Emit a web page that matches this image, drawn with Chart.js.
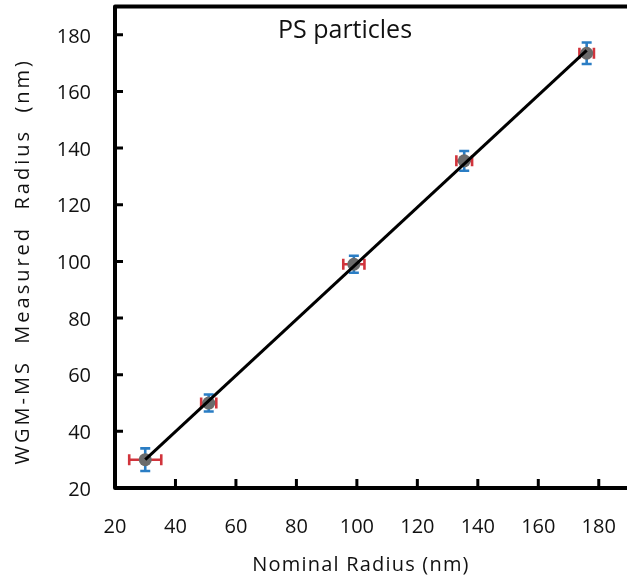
<!DOCTYPE html>
<html><head><meta charset="utf-8">
<script src="https://cdn.jsdelivr.net/npm/chart.js@4/dist/chart.umd.min.js"></script>
<style>html,body{margin:0;padding:0;overflow:hidden;background:#fff}canvas{display:block}</style>
</head><body>
<canvas id="c" width="640" height="583"></canvas>
<script>
// ---- data ----
const nominalRadius  = [30, 51, 99, 135.5, 176];
const measuredRadius = [30, 50, 99, 135.5, 173.5];
const nominalError   = [5.3, 2.5, 3.5, 2.6, 2.4];
const measuredError  = [4.0, 3.0, 3.0, 3.5, 3.8];
const fitX = [30, 176];
const fitY = [30, 174.5];
const xTickValues = [20, 40, 60, 80, 100, 120, 140, 160, 180];
const yTickValues = [20, 40, 60, 80, 100, 120, 140, 160, 180];
const chartTitle = 'PS particles';
const xTitle = 'Nominal Radius (nm)';
const yTitle = 'WGM-MS  Measured  Radius  (nm)';

const FONT = '"Open Sans", "Noto Sans", sans-serif';

const errorBars = {
  id: 'errorBars',
  beforeDatasetsDraw(chart) {
    const {ctx, scales: {x, y}} = chart;
    ctx.save();
    ctx.lineWidth = 2.6;
    ctx.lineCap = 'butt';
    nominalRadius.forEach((xv, i) => {
      const yv = measuredRadius[i];
      const px = x.getPixelForValue(xv), py = y.getPixelForValue(yv);
      const x1 = x.getPixelForValue(xv - nominalError[i]);
      const x2 = x.getPixelForValue(xv + nominalError[i]);
      const y1 = y.getPixelForValue(yv - measuredError[i]);
      const y2 = y.getPixelForValue(yv + measuredError[i]);
      ctx.strokeStyle = '#d1343c';
      ctx.beginPath();
      ctx.moveTo(x1, py); ctx.lineTo(x2, py);
      ctx.moveTo(x1, py - 5.5); ctx.lineTo(x1, py + 5.5);
      ctx.moveTo(x2, py - 5.5); ctx.lineTo(x2, py + 5.5);
      ctx.stroke();
      ctx.strokeStyle = '#2a7dc4';
      ctx.beginPath();
      ctx.moveTo(px, y1); ctx.lineTo(px, y2);
      ctx.moveTo(px - 5, y1); ctx.lineTo(px + 5, y1);
      ctx.moveTo(px - 5, y2); ctx.lineTo(px + 5, y2);
      ctx.stroke();
    });
    ctx.restore();
  }
};

const frame = {
  id: 'frame',
  afterDatasetsDraw(chart) {
    const {ctx, chartArea: a, scales: {x, y}} = chart;
    ctx.save();
    ctx.strokeStyle = '#000';
    ctx.lineWidth = 3;
    ctx.beginPath();
    x.ticks.forEach(t => {
      if (t.value <= x.min || t.value >= x.max) return;
      const px = x.getPixelForValue(t.value);
      ctx.moveTo(px, a.bottom); ctx.lineTo(px, a.bottom - 9);
    });
    y.ticks.forEach(t => {
      if (t.value <= y.min || t.value >= y.max) return;
      const py = y.getPixelForValue(t.value);
      ctx.moveTo(a.left, py); ctx.lineTo(a.left + 8, py);
    });
    ctx.stroke();
    ctx.lineWidth = 4;
    ctx.lineJoin = 'round';
    ctx.lineCap = 'round';
    ctx.beginPath();
    ctx.moveTo(a.right + 5, a.top);
    ctx.lineTo(a.left, a.top);
    ctx.lineTo(a.left, a.bottom);
    ctx.lineTo(a.right + 5, a.bottom);
    ctx.stroke();
    // chart title inside plot
    ctx.fillStyle = '#111';
    ctx.font = '25px ' + FONT;
    ctx.textAlign = 'center';
    ctx.textBaseline = 'alphabetic';
    ctx.fillText(chartTitle, 345, 38);
    ctx.restore();
  }
};

const titleTweaks = {
  id: 'titleTweaks',
  beforeDraw(chart) {
    const tweak = (s, spacing, dx, dy) => {
      if (!s || s._tw) return;
      s._tw = true;
      const orig = s.drawTitle.bind(s);
      s.drawTitle = function (...args) {
        const c = this.ctx;
        c.save();
        c.letterSpacing = spacing;
        c.translate(dx, dy);
        orig(...args);
        c.restore();
      };
    };
    tweak(chart.scales.y, '3px', 0, 14);
    tweak(chart.scales.x, '1.2px', -11, 0);
  }
};

new Chart(document.getElementById('c'), {
  type: 'scatter',
  data: {
    datasets: [
      {
        label: 'fit',
        data: fitX.map((v, i) => ({x: v, y: fitY[i]})),
        showLine: true,
        borderColor: '#000',
        borderWidth: 3,
        pointRadius: 0,
        order: 0
      },
      {
        label: 'PS',
        data: nominalRadius.map((v, i) => ({x: v, y: measuredRadius[i]})),
        pointRadius: 6.5,
        pointBackgroundColor: '#6b6b6b',
        pointBorderWidth: 0,
        order: 1
      }
    ]
  },
  options: {
    responsive: false,
    animation: false,
    devicePixelRatio: 1,
    layout: {padding: {left: 0, right: 11, top: 3, bottom: 0}},
    plugins: {legend: {display: false}, tooltip: {enabled: false}, title: {display: false}},
    scales: {
      x: {
        type: 'linear', min: 20, max: 190,
        afterBuildTicks: s => { s.ticks = xTickValues.map(v => ({value: v})); },
        afterFit: s => { s.height = 95; s.paddingLeft = 0; s.paddingRight = 0; },
        grid: {display: false, drawTicks: false},
        border: {display: false},
        ticks: {padding: 27, color: '#111', font: {family: FONT, size: 20}, maxRotation: 0},
        title: {display: true, text: xTitle, color: '#111', font: {family: FONT, size: 20}, padding: {top: 0, bottom: 6}}
      },
      y: {
        type: 'linear', min: 20, max: 190,
        afterBuildTicks: s => { s.ticks = yTickValues.map(v => ({value: v})); },
        afterFit: s => { s.width = 115; s.paddingTop = 0; s.paddingBottom = 0; },
        grid: {display: false, drawTicks: false},
        border: {display: false},
        ticks: {padding: 24, color: '#111', labelOffset: 2, font: {family: FONT, size: 20}},
        title: {display: true, text: yTitle, color: '#111', font: {family: FONT, size: 20}, padding: {top: 11, bottom: 0}}
      }
    }
  },
  plugins: [errorBars, frame, titleTweaks]
});
</script>
</body></html>
